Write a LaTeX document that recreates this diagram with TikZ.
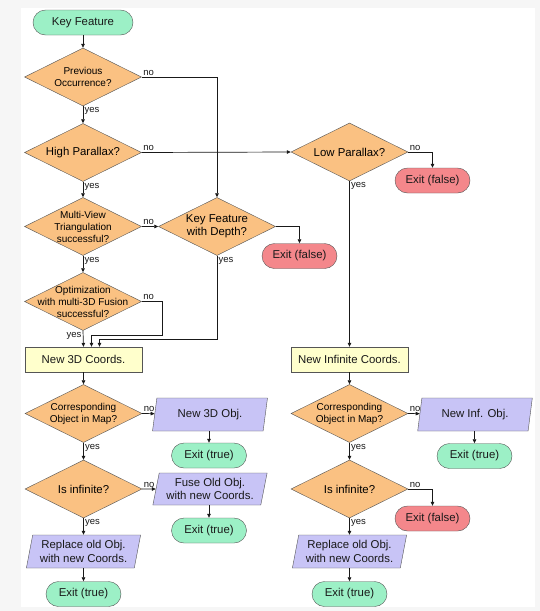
\documentclass[tikz,border=0pt]{standalone}
\usepackage{fontspec}
\setmainfont{Liberation Sans}
\usepackage{xcolor}
\usepackage{tikz}
\usetikzlibrary{shapes.geometric}
\usetikzlibrary{arrows.meta}
\usetikzlibrary{positioning}

\definecolor{termgreen}{HTML}{9CF0C6}
\definecolor{exitred}{HTML}{F4878B}
\definecolor{decorange}{HTML}{FAC182}
\definecolor{procyellow}{HTML}{FFFFCC}
\definecolor{iopurple}{HTML}{C8C4F6}
\definecolor{frame}{HTML}{555555}

\newcommand{\shapefont}{\fontsize{11.4}{13.5}\selectfont}
\newcommand{\qfont}{\fontsize{10}{12}\selectfont}
\newcommand{\yesnofont}{\fontsize{9.5}{11}\selectfont}

\begin{document}
\begin{tikzpicture}[x=1pt,y=-1pt,
    every node/.style={text=black!90},
    term/.style={draw=frame,fill=termgreen,rounded corners=12.5pt,minimum width=75pt,minimum height=25pt,inner sep=0pt,font=\shapefont},
    exitf/.style={term,fill=exitred},
    decision/.style={diamond,draw=frame,fill=decorange,minimum width=117pt,minimum height=58pt,inner sep=0pt},
    dtext/.style={align=center,inner sep=0pt,font=\qfont},
    process/.style={draw=frame,fill=procyellow,minimum width=117pt,minimum height=25pt,inner sep=0pt,font=\shapefont},
    io/.style={trapezium,trapezium left angle=76,trapezium right angle=104,trapezium stretches=true,draw=frame,fill=iopurple,minimum width=115pt,minimum height=33pt,inner sep=0pt,align=center,font=\shapefont},
    lbl/.style={font=\yesnofont,inner sep=1.2pt},
    arr/.style={draw=black!90,line width=0.7pt,-{Triangle[length=4pt,width=3.5pt]}}]
    \useasboundingbox (0,0) rectangle (540,611);
    \fill[gray!7] (0,0) rectangle (540,611);
    \fill[white] (21,8) rectangle (535,607);

    % upper part
    \node[term,minimum width=100pt] (key) at (83,22.5) {Key Feature};
    \node[decision] (occ) at (83,77) {};
    \node[decision] (hp) at (83,152.5) {};
    \node[decision] (mv) at (83,226.5) {};
    \node[decision] (opt) at (83,301.5) {};
    \node[decision] (kfd) at (217,226.5) {};
    \node[exitf] (kfdx) at (299.5,256) {Exit (false)};
    \node[decision] (lp) at (349.5,152) {};
    \node[exitf] (lpx) at (432.5,180.5) {Exit (false)};
    \node[process] (n3d) at (83.5,359.5) {New 3D Coords.};
    \node[process] (ninf) at (349.5,359.5) {New Infinite Coords.};

    \begin{scope}[every node/.style={dtext}]
    \node (occ-t) at (occ) {\fontsize{10}{12.7}\selectfont Previous\\Occurrence?};
    \node[font=\shapefont] (hp-t) at (hp) {High Parallax?};
    \node (mv-t) at (mv) {Multi-View\\Triangulation\\successful?};
    \node (opt-t) at (opt) {Optimization\\with multi-3D Fusion\\successful?};
    \node[font=\shapefont] (kfd-t) at (kfd) {\fontsize{11.4}{12}\selectfont Key Feature\\with Depth?};
    \node[font=\shapefont] (lp-t) at (lp) {Low Parallax?};
    \end{scope}

    % 3D branch
    \node[decision] (cor) at (83.5,413.5) {};
    \node[io] (obj) at (210,414.5) {New 3D Obj.};
    \node[term] (objx) at (209,455.5) {Exit (true)};
    \node[decision] (inf) at (83.5,489) {};
    \node[io,minimum height=32pt] (fuse) at (210,489) {Fuse Old Obj.\\with new Coords.};
    \node[term] (fusex) at (209,530.5) {Exit (true)};
    \node[io] (rep) at (83.5,551.5) {Replace old Obj.\\with new Coords.};
    \node[term] (repx) at (83.5,594) {Exit (true)};

    % infinite branch
    \node[decision] (cor2) at (349.5,413.5) {};
    \node[io] (obj2) at (475,414.5) {New Inf. Obj.};
    \node[term] (obj2x) at (474.5,456) {Exit (true)};
    \node[decision] (inf2) at (349.5,489) {};
    \node[exitf] (inf2x) at (432.5,518.5) {Exit (false)};
    \node[io] (rep2) at (349.5,551.5) {Replace old Obj.\\with new Coords.};
    \node[term] (rep2x) at (349.5,594) {Exit (true)};

    \begin{scope}[every node/.style={dtext}]
    \node (cor-t) at (cor) {Corresponding\\Object in Map?};
    \node[font=\shapefont] (inf-t) at (inf) {Is infinite?};
    \node (cor2-t) at (cor2) {Corresponding\\Object in Map?};
    \node[font=\shapefont] (inf2-t) at (inf2) {Is infinite?};
    \end{scope}

    \coordinate (optj) at (162,335);
    \coordinate (kfdj) at (99.5,339);

    \draw[arr] (key) -- (occ);
    \draw[arr] (occ.south) -- (hp.north) node[pos=0,anchor=north west,lbl] {yes};
    \draw[arr] (occ.east) -| (kfd.north) node[pos=0,anchor=south west,lbl] {no};
    \draw[arr] (hp.east) -- (lp.west) node[pos=0,anchor=south west,lbl] {no};
    \draw[arr] (hp.south) -- (mv.north) node[pos=0,anchor=north west,lbl] {yes};
    \draw[arr] (mv.east) -- (kfd.west) node[pos=0,anchor=south west,lbl] {no};
    \draw[arr] (kfd.east) -| (kfdx.north);
    \draw[arr] (mv.south) -- (opt.north) node[pos=0,anchor=north west,lbl] {yes};
    \draw[arr] (opt.south) -- (n3d.north) node[pos=0,anchor=north east,lbl] {yes};
    \draw[arr] (opt.east) -| (optj) node[pos=0,anchor=south west,lbl] {no} -| ([xshift=8pt]n3d.north);
    \draw[arr] (kfd.south) |- (kfdj) node[pos=0,anchor=north west,lbl] {yes} -- (kfdj |- n3d.north);
    \draw[arr] (lp.east) -| (lpx.north) node[pos=0,anchor=south west,lbl] {no};
    \draw[arr] (lp.south) -- (ninf.north) node[pos=0,anchor=north west,lbl] {yes};

    \draw[arr] (n3d) -- (cor);
    \draw[arr] (cor.east) -- (obj) node[pos=0,anchor=south west,lbl] {no};
    \draw[arr] (obj.south -| objx) -- (objx);
    \draw[arr] (cor.south) -- (inf.north) node[pos=0,anchor=north west,lbl] {yes};
    \draw[arr] (inf.east) -- (fuse) node[pos=0,anchor=south west,lbl] {no};
    \draw[arr] (fuse.south -| fusex) -- (fusex);
    \draw[arr] (inf.south) -- (rep.north) node[pos=0,anchor=north west,lbl] {yes};
    \draw[arr] (rep) -- (repx);

    \draw[arr] (ninf) -- (cor2);
    \draw[arr] (cor2.east) -- (obj2) node[pos=0,anchor=south west,lbl] {no};
    \draw[arr] (obj2.south -| obj2x) -- (obj2x);
    \draw[arr] (cor2.south) -- (inf2.north) node[pos=0,anchor=north west,lbl] {yes};
    \draw[arr] (inf2.east) -| (inf2x.north) node[pos=0,anchor=south west,lbl] {no};
    \draw[arr] (inf2.south) -- (rep2.north) node[pos=0,anchor=north west,lbl] {yes};
    \draw[arr] (rep2) -- (rep2x);
\end{tikzpicture}
\end{document}
